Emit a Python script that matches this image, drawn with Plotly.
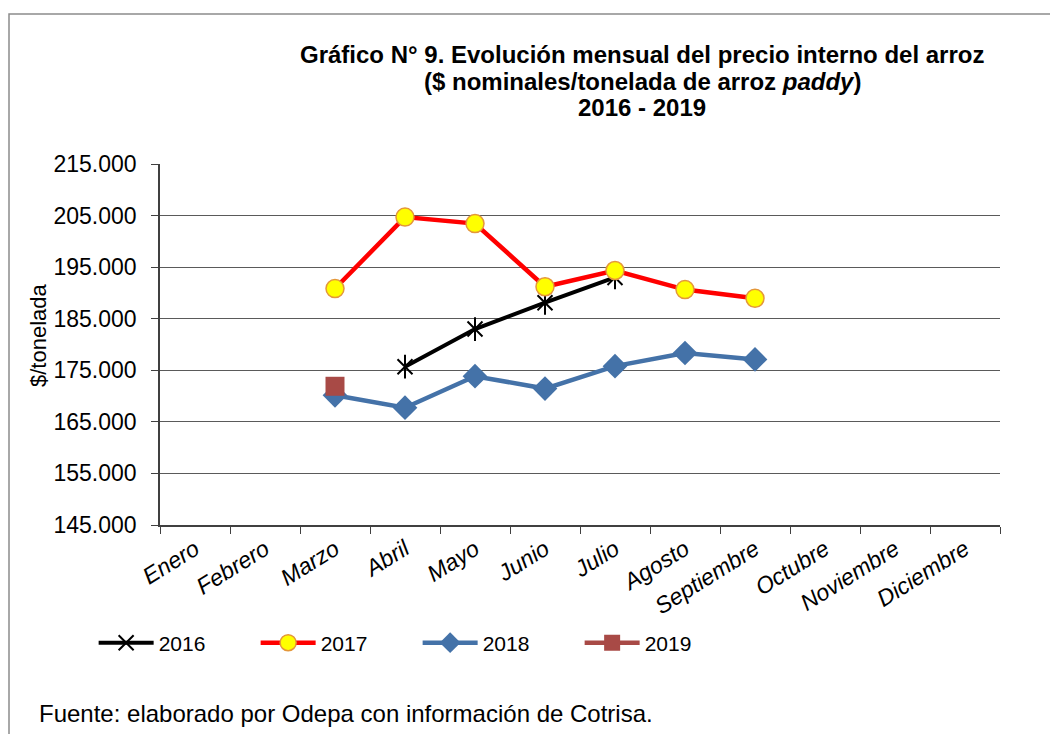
import plotly.graph_objects as go

months = ["Enero", "Febrero", "Marzo", "Abril", "Mayo", "Junio", "Julio",
          "Agosto", "Septiembre", "Octubre", "Noviembre", "Diciembre"]

v2016 = [None, None, None, 175700, 183000, 188100, 193000, None, None, None, None, None]
v2017 = [None, None, 190850, 204700, 203450, 191200, 194350, 190650, 188950, None, None, None]
v2018 = [None, None, 170150, 167750, 173850, 171450, 175800, 178350, 177100, None, None, None]
v2019 = [None, None, 171900, None, None, None, None, None, None, None, None, None]

title_lines = ["<b>Gráfico N° 9. Evolución mensual del precio interno del arroz</b>",
               "<b>($ nominales/tonelada de arroz <i>paddy</i>)</b>",
               "<b>2016 - 2019</b>"]

FONT = "Liberation Sans, Arial, sans-serif"

fig = go.Figure()

fig.add_trace(go.Scatter(
    x=months, y=v2016, name="2016", mode="lines+markers", legendgroup="2016",
    line=dict(color="black", width=4),
    marker=dict(symbol="x-thin-open", size=15, color="black", line=dict(color="black", width=2)),
))
fig.add_trace(go.Scatter(
    x=months, y=v2016, name="2016", mode="markers", legendgroup="2016", showlegend=False,
    marker=dict(symbol="line-ns-open", size=17, color="black", line=dict(color="black", width=2)),
))
fig.add_trace(go.Scatter(
    x=months, y=v2017, name="2017", mode="lines+markers",
    line=dict(color="#FF0000", width=4.5),
    marker=dict(symbol="circle", size=18, color="#FFFF00", line=dict(color="#E4973A", width=1.5)),
))
fig.add_trace(go.Scatter(
    x=months, y=v2018, name="2018", mode="lines+markers",
    line=dict(color="#4472A8", width=4.5),
    marker=dict(symbol="diamond", size=19, color="#4472A8"),
))
fig.add_trace(go.Scatter(
    x=months, y=v2019, name="2019", mode="lines+markers",
    line=dict(color="#A84A46", width=4.5),
    marker=dict(symbol="square", size=19, color="#A84A46"),
))

fig.update_layout(
    width=1058, height=734,
    margin=dict(l=152, r=66, t=156, b=217),
    paper_bgcolor="white", plot_bgcolor="white",
    separators=",.",
    font=dict(family=FONT, color="black"),
    showlegend=True,
    legend=dict(
        orientation="h", x=-0.079, xanchor="left", y=-0.327, yanchor="middle",
        font=dict(family=FONT, size=21, color="black"),
        entrywidth=92, entrywidthmode="pixels", itemwidth=55,
        bgcolor="rgba(0,0,0,0)",
    ),
    xaxis=dict(
        type="category", categoryorder="array", categoryarray=months,
        range=[-0.5, 11.5],
        showgrid=False, showline=True, linecolor="#404040", linewidth=1.5,
        ticks="outside", tickson="boundaries", ticklen=7, tickcolor="#404040",
        tickangle=-32,
        tickfont=dict(family=FONT, size=23, color="black", style="italic"),
        zeroline=False,
    ),
    yaxis=dict(
        range=[145000, 215000], dtick=10000, tick0=145000,
        tickformat=",.0f",
        showgrid=True, gridcolor="#5a5a5a", gridwidth=1,
        showline=True, linecolor="#404040", linewidth=1.5,
        ticks="outside", ticklen=7, tickcolor="#404040",
        ticklabelstandoff=10,
        tickfont=dict(family=FONT, size=23, color="black"),
        zeroline=False,
    ),
)

for line_text, py in zip(title_lines, [54, 82, 108]):
    fig.add_annotation(
        text=line_text,
        xref="paper", yref="paper", x=(642 - 160) / 840, y=(525 - py) / 361,
        xanchor="center", yanchor="middle",
        showarrow=False, align="center",
        font=dict(family=FONT, size=24, color="black"),
    )
fig.add_annotation(
    text="$/tonelada", textangle=-90,
    xref="paper", yref="paper", x=(38 - 160) / 840, y=(525 - 335) / 361,
    xanchor="center", yanchor="middle", showarrow=False,
    font=dict(family=FONT, size=22, color="black"),
)
fig.add_annotation(
    text="Fuente: elaborado por Odepa con información de Cotrisa.",
    xref="paper", yref="paper", x=(37 - 160) / 840, y=(525 - 713) / 361,
    xanchor="left", yanchor="middle", showarrow=False,
    font=dict(family=FONT, size=24, color="black"),
)
fig.add_shape(
    type="rect", xref="paper", yref="paper",
    x0=(9 - 160) / 840, x1=(1070 - 160) / 840,
    y0=(525 - 760) / 361, y1=(525 - 14) / 361,
    line=dict(color="#8c8c8c", width=1.5), fillcolor="rgba(0,0,0,0)", layer="below",
)

fig.write_html("out.html")
